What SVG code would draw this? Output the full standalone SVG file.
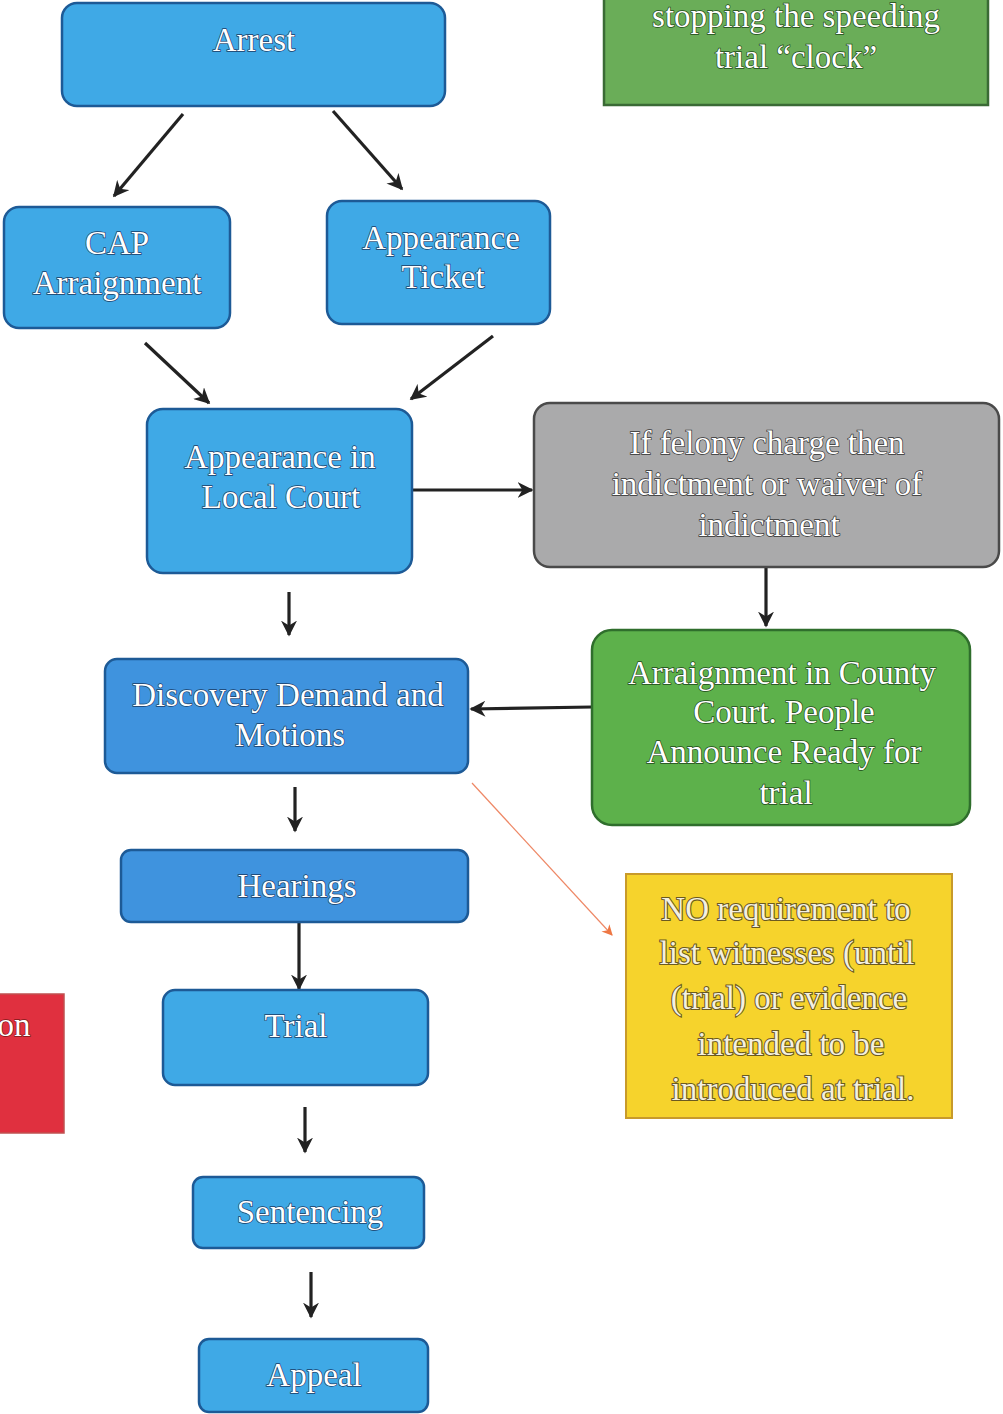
<svg xmlns="http://www.w3.org/2000/svg" width="1003" height="1414" viewBox="0 0 1003 1414">
<defs>
<marker id="ah" viewBox="0 0 10 10" refX="9" refY="5" markerWidth="5" markerHeight="5" orient="auto" markerUnits="strokeWidth">
<path d="M0,0 L10,5 L0,10 L3,5 z" fill="#222"/>
</marker>
<marker id="aho" viewBox="0 0 10 10" refX="9" refY="5" markerWidth="9" markerHeight="9" orient="auto" markerUnits="strokeWidth">
<path d="M0,0 L10,5 L0,10 L3,5 z" fill="#ee7744"/>
</marker>
</defs>
<style>
.blue{fill:#3fa9e6;stroke:#1d5a96;stroke-width:2.5}
.blue2{fill:#3f93de;stroke:#1d5a96;stroke-width:2.5}
.grey{fill:#aaaaab;stroke:#4a4a4a;stroke-width:2.5}
.green{fill:#5db14b;stroke:#2f6e2c;stroke-width:2.5}
.green2{fill:#6aad58;stroke:#3a6a35;stroke-width:2.5}
.yellow{fill:#f6d32c;stroke:#c89a2a;stroke-width:2}
.red{fill:#e0303f;stroke:#c05050;stroke-width:1.5}
.t{font-family:"Liberation Serif","DejaVu Serif",serif;font-size:33px;fill:#ffffff;text-anchor:middle;stroke:#1b3d66;stroke-width:1.4;paint-order:stroke}
.tg{stroke:#333333}
.tgr{stroke:#1f4a1a}
.ty{stroke:#6b5a20;stroke-width:2.2;fill:#f4f0e0}
.conn{stroke:#222;stroke-width:3.2;fill:none;marker-end:url(#ah)}
.conno{stroke:#ee8866;stroke-width:1.2;fill:none;marker-end:url(#aho)}
</style>
<g id="connectors">
<line class="conn" x1="183" y1="114" x2="114" y2="196"/>
<line class="conn" x1="333" y1="111" x2="402" y2="189"/>
<line class="conn" x1="145" y1="343" x2="209" y2="403"/>
<line class="conn" x1="493" y1="336" x2="411" y2="399"/>
<line class="conn" x1="412" y1="490" x2="532" y2="490"/>
<line class="conn" x1="766" y1="564" x2="766" y2="626"/>
<line class="conn" x1="289" y1="592" x2="289" y2="635"/>
<line class="conn" x1="592" y1="707" x2="471" y2="709"/>
<line class="conn" x1="295" y1="787" x2="295" y2="831"/>
<line class="conn" x1="299" y1="922" x2="299" y2="989"/>
<line class="conn" x1="305" y1="1107" x2="305" y2="1152"/>
<line class="conn" x1="311" y1="1272" x2="311" y2="1317"/>
<line class="conno" x1="472" y1="783" x2="612" y2="935"/>
</g>
<g id="arrest">
<rect class="blue" x="62" y="3" width="383" height="103" rx="15"/>
<text class="t" x="254" y="51">Arrest</text>
</g>
<g id="speeding-clock">
<rect class="green2" x="604" y="-10" width="384" height="115"/>
<text class="t tgr" x="796" y="27">stopping the speeding</text>
<text class="t tgr" x="796" y="68">trial “clock”</text>
</g>
<g id="cap-arraignment">
<rect class="blue" x="4" y="207" width="226" height="121" rx="15"/>
<text class="t" x="117" y="254">CAP</text>
<text class="t" x="117" y="294">Arraignment</text>
</g>
<g id="appearance-ticket">
<rect class="blue" x="327" y="201" width="223" height="123" rx="15"/>
<text class="t" x="441" y="249">Appearance</text>
<text class="t" x="443" y="288">Ticket</text>
</g>
<g id="local-court">
<rect class="blue" x="147" y="409" width="265" height="164" rx="16"/>
<text class="t" x="280" y="468">Appearance in</text>
<text class="t" x="281" y="508">Local Court</text>
</g>
<g id="felony">
<rect class="grey" x="534" y="403" width="465" height="164" rx="16"/>
<text class="t tg" x="767" y="454">If felony charge then</text>
<text class="t tg" x="767" y="495">indictment or waiver of</text>
<text class="t tg" x="769" y="536">indictment</text>
</g>
<g id="county-court">
<rect class="green" x="592" y="630" width="378" height="195" rx="20"/>
<text class="t tgr" x="782" y="684">Arraignment in County</text>
<text class="t tgr" x="784" y="723">Court. People</text>
<text class="t tgr" x="784" y="763">Announce Ready for</text>
<text class="t tgr" x="786" y="804">trial</text>
</g>
<g id="discovery">
<rect class="blue2" x="105" y="659" width="363" height="114" rx="12"/>
<text class="t" x="288" y="706">Discovery Demand and</text>
<text class="t" x="290" y="746">Motions</text>
</g>
<g id="no-requirement">
<rect class="yellow" x="626" y="874" width="326" height="244"/>
<text class="t ty" x="786" y="920">NO requirement to</text>
<text class="t ty" x="787" y="964">list witnesses (until</text>
<text class="t ty" x="789" y="1009">(trial) or evidence</text>
<text class="t ty" x="791" y="1055">intended to be</text>
<text class="t ty" x="793" y="1100">introduced at trial.</text>
</g>
<g id="hearings">
<rect class="blue2" x="121" y="850" width="347" height="72" rx="10"/>
<text class="t" x="297" y="897">Hearings</text>
</g>
<g id="red-box">
<rect class="red" x="-10" y="994" width="74" height="139"/>
<text class="t" x="14" y="1036" style="stroke:#7a1a1a">on</text>
</g>
<g id="trial">
<rect class="blue" x="163" y="990" width="265" height="95" rx="12"/>
<text class="t" x="296" y="1037">Trial</text>
</g>
<g id="sentencing">
<rect class="blue" x="193" y="1177" width="231" height="71" rx="10"/>
<text class="t" x="310" y="1223">Sentencing</text>
</g>
<g id="appeal">
<rect class="blue" x="199" y="1339" width="229" height="73" rx="10"/>
<text class="t" x="314" y="1386">Appeal</text>
</g>
</svg>
